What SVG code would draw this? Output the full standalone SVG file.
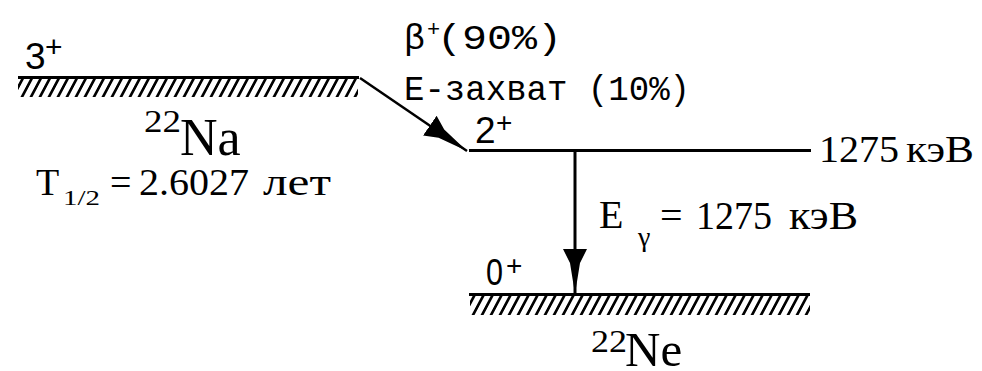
<svg xmlns="http://www.w3.org/2000/svg" width="982" height="371" viewBox="0 0 982 371">
<style>
.lvl{stroke:#000;stroke-width:3;fill:none}
.tr{stroke:#000;stroke-width:2.5;fill:none}
.sans{font-family:"Liberation Sans",Arial,sans-serif;fill:#000}
.serif{font-family:"Liberation Serif","Times New Roman",serif;fill:#000}
.mono{font-family:"Liberation Mono","Courier New",monospace;fill:#000}
.hatch{fill:url(#hatch)}
</style>
<defs>
<pattern id="hatch" patternUnits="userSpaceOnUse" width="9" height="20" patternTransform="skewX(-28)">
<rect x="0" y="0" width="3" height="20" fill="#000"/>
</pattern>
<marker id="ah" markerUnits="userSpaceOnUse" markerWidth="46" markerHeight="26" viewBox="0 0 46 26" refX="45" refY="13" orient="auto">
<path d="M0,1 L14,8 L45,13 L14,18 L0,25 Z" fill="#000"/>
</marker>
</defs>
<rect width="982" height="371" fill="#fff"/>

<g id="na22">
<line class="lvl" x1="18" y1="77.5" x2="359" y2="77.5"/>
<rect class="hatch" x="18" y="79" width="340" height="18"/>
<text class="sans" x="25" y="69" font-size="37">3</text>
<text class="sans" x="45" y="57" font-size="30">+</text>
<text class="serif" x="144" y="132" font-size="31" textLength="37" lengthAdjust="spacingAndGlyphs">22</text>
<text class="serif" x="180" y="155" font-size="52">Na</text>
<text class="serif" y="195" font-size="38"><tspan x="36">T</tspan><tspan x="63" y="205" font-size="22" textLength="37" lengthAdjust="spacingAndGlyphs">1/2</tspan><tspan x="110" y="195">=</tspan><tspan x="139" textLength="110" lengthAdjust="spacingAndGlyphs">2.6027</tspan><tspan x="263" textLength="68" lengthAdjust="spacingAndGlyphs">лет</tspan></text>
</g>

<g id="ne22-2plus">
<line class="lvl" x1="469" y1="150.5" x2="811" y2="150.5"/>
<text class="sans" x="475" y="143" font-size="37">2</text>
<text class="sans" x="496" y="132" font-size="28">+</text>
<text class="serif" y="162" font-size="38"><tspan x="819" textLength="80" lengthAdjust="spacingAndGlyphs">1275</tspan><tspan x="906" textLength="68" lengthAdjust="spacingAndGlyphs">кэВ</tspan></text>
</g>

<g id="ne22-0plus">
<line class="lvl" x1="469" y1="294.5" x2="810" y2="294.5"/>
<rect class="hatch" x="470" y="296" width="340" height="19"/>
<text class="sans" x="486" y="285" font-size="37" textLength="17" lengthAdjust="spacingAndGlyphs">0</text>
<text class="sans" x="506" y="275" font-size="28">+</text>
<text class="serif" x="591" y="352" font-size="32" textLength="36" lengthAdjust="spacingAndGlyphs">22</text>
<text class="serif" x="625" y="366" font-size="49">Ne</text>
</g>

<g id="connectors">
<line class="tr" x1="360" y1="78" x2="467" y2="151" marker-end="url(#ah)"/>
<line class="lvl" x1="575" y1="150" x2="575" y2="294" marker-end="url(#ah)"/>
</g>

<g id="labels">
<text class="mono" x="404" y="49" font-size="35">β</text>
<text class="mono" x="427" y="36" font-size="22">+</text>
<text class="mono" x="437" y="49" font-size="35" textLength="125" lengthAdjust="spacingAndGlyphs">(90%)</text>
<text class="mono" x="404" y="100" font-size="35" textLength="286" lengthAdjust="spacingAndGlyphs">E-захват (10%)</text>
<text class="serif" y="228" font-size="40"><tspan x="599">E</tspan><tspan x="638" y="246" font-size="28">γ</tspan><tspan x="660" y="229">=</tspan><tspan x="696" textLength="76" lengthAdjust="spacingAndGlyphs">1275</tspan><tspan x="789" textLength="69" lengthAdjust="spacingAndGlyphs">кэВ</tspan></text>
</g>
</svg>
